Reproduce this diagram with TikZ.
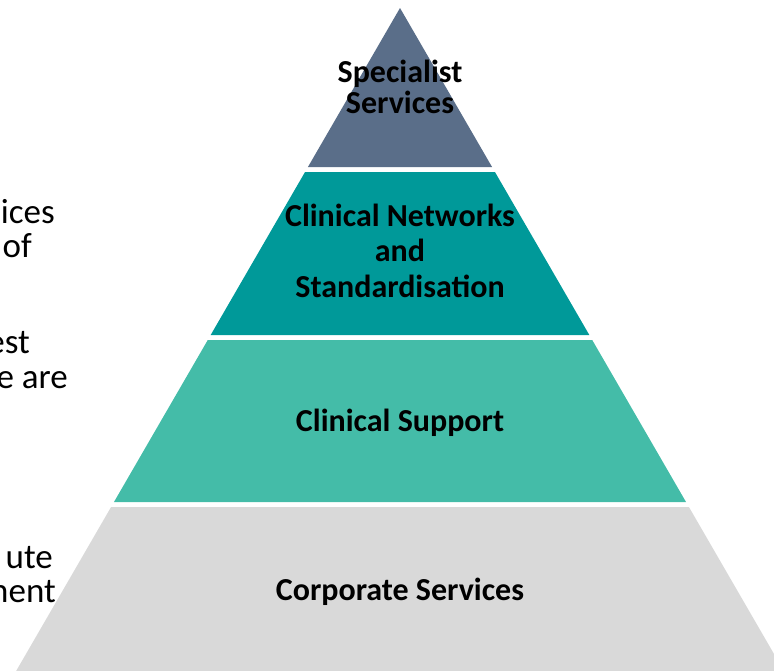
\documentclass[tikz,border=0pt]{standalone}
\usepackage{fontspec}
\setmainfont{Carlito}
\usepackage{tikz}

\definecolor{slate}{RGB}{90,110,137}
\definecolor{darkteal}{RGB}{0,153,153}
\definecolor{mint}{RGB}{68,188,168}
\definecolor{lightgrey}{RGB}{217,217,217}

\begin{document}
\begin{tikzpicture}[x=1pt, y=-1pt,
    tier/.style={font=\bfseries\fontsize{32}{31}\selectfont, align=center, inner sep=0pt, anchor=base},
    side/.style={font=\fontsize{35}{34}\selectfont, anchor=base east, inner sep=0pt}]
    \useasboundingbox (0,0) rectangle (774,670);
    \clip (0,0) rectangle (774,670);
    % pyramid bands: top/bottom/colour
    \foreach \tp/\bt/\col in {8/167/slate, 172/335/darkteal, 340/502/mint, 507/690/lightgrey}
        \fill[\col] ({400-0.579*(\tp-8)},\tp) -- ({400+0.579*(\tp-8)},\tp)
            -- ({400+0.579*(\bt-8)},\bt) -- ({400-0.579*(\bt-8)},\bt) -- cycle;
    % base anchor sits on the last line
    \node[tier] (spec) at (400,113) {Specialist\\Services};
    \node[tier, font=\bfseries\fontsize{32}{35.5}\selectfont] (netw) at (400,297) {Clinical Networks\\and\\Standardisation};
    \node[tier] (supp) at (400,431) {Clinical Support};
    \node[tier] (corp) at (400,600) {Corporate Services};
    % cut-off text on the left
    \node[side] (t1) at (55,223) {ices};
    \node[side] (t2) at (32,257) {of};
    \node[side] (t3) at (30,353) {est};
    \node[side] (t4) at (68,388) {e are};
    \node[side] (t5) at (53,568) {ute};
    \node[side] (t6) at (56,602) {ment};
\end{tikzpicture}
\end{document}
